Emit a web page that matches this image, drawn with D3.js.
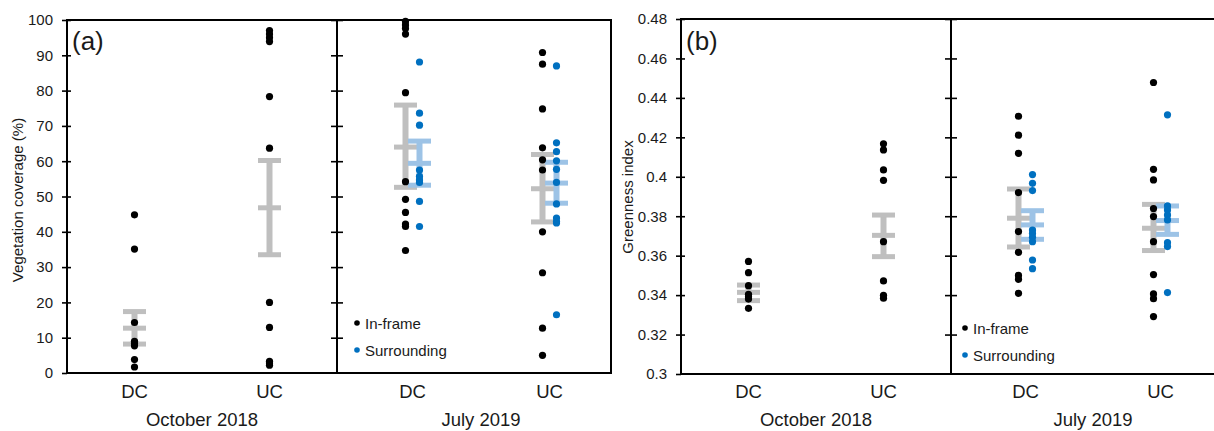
<!DOCTYPE html>
<html>
<head>
<meta charset="utf-8">
<script src="https://cdn.jsdelivr.net/npm/d3@7"></script>
<style>
  body { margin: 0; background: #fff; }
  text { font-family: "Liberation Sans", Arial, sans-serif; fill: #1a1a1a; }
</style>
</head>
<body>
<svg id="chart" width="1214" height="431"></svg>
<script>
// categories / groups
const categories = ["DC", "UC"];
const periods = ["October 2018", "July 2019"];
const seriesNames = ["In-frame", "Surrounding"];

// tick labels
const ticksA = [0, 10, 20, 30, 40, 50, 60, 70, 80, 90, 100];
const tickLabelsA = ["0", "10", "20", "30", "40", "50", "60", "70", "80", "90", "100"];
const ticksB = [0.3, 0.32, 0.34, 0.36, 0.38, 0.4, 0.42, 0.44, 0.46, 0.48];
const tickLabelsB = ["0.3", "0.32", "0.34", "0.36", "0.38", "0.4", "0.42", "0.44", "0.46", "0.48"];

// (a) vegetation coverage (%) - October 2018
const aOctDC = [44.8, 35.1, 14.3, 9.0, 8.3, 7.7, 3.8, 1.7];
const aOctUC = [97.0, 96.0, 95.0, 93.9, 78.3, 63.7, 20.0, 12.9, 3.3, 2.8, 2.2];
const aOctErrDC = [8.2, 12.7, 17.4];   // low, mean, high
const aOctErrUC = [33.5, 46.8, 60.2];

// (a) July 2019
const aJulDCIn = [99.6, 98.6, 97.6, 96.0, 79.4, 54.2, 49.2, 45.5, 42.2, 41.5, 34.7];
const aJulDCSur = [88.1, 73.6, 70.2, 57.5, 55.7, 54.7, 54.0, 48.6, 41.5];
const aJulUCIn = [90.8, 87.5, 74.8, 63.8, 60.4, 57.5, 40.0, 28.4, 12.7, 5.0];
const aJulUCSur = [87.0, 65.2, 62.7, 60.1, 57.7, 54.0, 47.9, 43.9, 42.9, 42.5, 16.5];
const aJulErrDCIn = [52.6, 64.0, 75.9];
const aJulErrDCSur = [53.2, 59.4, 65.7];
const aJulErrUCIn = [42.8, 52.2, 61.9];
const aJulErrUCSur = [48.1, 53.8, 59.7];

// (b) greenness index - October 2018
const bOctDC = [0.3571, 0.3514, 0.3448, 0.3404, 0.3392, 0.3380, 0.3333];
const bOctUC = [0.4167, 0.4136, 0.4035, 0.3982, 0.3671, 0.3472, 0.3399, 0.3384];
const bOctErrDC = [0.3372, 0.3414, 0.3451];
const bOctErrUC = [0.3595, 0.3703, 0.3806];

// (b) July 2019
const bJulDCIn = [0.4307, 0.4211, 0.4119, 0.3920, 0.3722, 0.3617, 0.3500, 0.3480, 0.3409];
const bJulDCSur = [0.4011, 0.3967, 0.3930, 0.3730, 0.3713, 0.3693, 0.3671, 0.3578, 0.3534];
const bJulUCIn = [0.4478, 0.4038, 0.3984, 0.3839, 0.3798, 0.3671, 0.3504, 0.3406, 0.3382, 0.3291];
const bJulUCSur = [0.4314, 0.3852, 0.3832, 0.3806, 0.3781, 0.3666, 0.3646, 0.3413];
const bJulErrDCIn = [0.3644, 0.3790, 0.3938];
const bJulErrDCSur = [0.3683, 0.3756, 0.3828];
const bJulErrUCIn = [0.3626, 0.3739, 0.3860];
const bJulErrUCSur = [0.3708, 0.3778, 0.3852];

const GRAY = "#bfbfbf", LIGHTBLUE = "#9dc3e6", BLUE = "#0070c0";

const svg = d3.select("#chart");

function drawPanel(p) {
    const y = d3.scaleLinear().domain(p.domain).range([p.yBottom, p.yTop]);
    const xOct = d3.scalePoint().domain(categories).range([p.x0, p.xMid]).padding(0.5);
    const xJul = d3.scalePoint().domain(categories).range([p.xMid, p.x1]).padding(0.5);
    const g = svg.append("g");

    // left axis with labels
    const left = g.append("g")
        .attr("transform", `translate(${p.x0},0)`)
        .call(d3.axisLeft(y).tickValues(p.ticks).tickFormat((d, i) => p.tickLabels[i]).tickSize(5).tickPadding(9));
    left.select(".domain").remove();
    left.selectAll("line").attr("stroke", "#000").attr("stroke-width", 1.6);
    left.selectAll("text").style("font-size", "15px").style("font-family", '"Liberation Sans", Arial, sans-serif').attr("fill", "#1a1a1a");

    // inward ticks on left axis and ticks on the divider
    [[p.x0, d3.axisRight, 4], [p.xMid, d3.axisRight, 6], [p.xMid, d3.axisLeft, 6]].forEach(([xx, ax, size]) => {
        const t = g.append("g")
            .attr("transform", `translate(${xx},0)`)
            .call(ax(y).tickValues(p.ticks.slice(1)).tickSize(size).tickFormat(""));
        t.select(".domain").remove();
        t.selectAll("line").attr("stroke", "#000").attr("stroke-width", 1.6);
    });

    // frame + divider
    g.append("rect")
        .attr("x", p.x0).attr("y", y(p.domain[1]))
        .attr("width", p.x1 - p.x0).attr("height", y(p.domain[0]) - y(p.domain[1]))
        .attr("fill", "none").attr("stroke", "#000").attr("stroke-width", 2);
    g.append("line")
        .attr("x1", p.xMid).attr("x2", p.xMid)
        .attr("y1", y(p.domain[1])).attr("y2", y(p.domain[0]))
        .attr("stroke", "#000").attr("stroke-width", 2);

    // error bars
    function errBar(xc, e, color) {
        const eg = g.append("g");
        eg.append("line")
            .attr("x1", xc).attr("x2", xc).attr("y1", y(e[0])).attr("y2", y(e[2]))
            .attr("stroke", color).attr("stroke-width", 6);
        eg.selectAll("line.cap").data(e).enter().append("line")
            .attr("class", "cap")
            .attr("x1", xc - 11.5).attr("x2", xc + 11.5)
            .attr("y1", d => y(d)).attr("y2", d => y(d))
            .attr("stroke", color).attr("stroke-width", 5);
    }
    function dots(xc, vals, color) {
        g.append("g").selectAll("circle").data(vals).enter().append("circle")
            .attr("cx", xc).attr("cy", d => y(d)).attr("r", 3.6).attr("fill", color);
    }

    const off = 14;
    errBar(xOct("DC"), p.octErr[0], GRAY);
    errBar(xOct("UC"), p.octErr[1], GRAY);
    errBar(xJul("DC"), p.julErrIn[0], GRAY);
    errBar(xJul("UC"), p.julErrIn[1], GRAY);
    errBar(xJul("DC") + off, p.julErrSur[0], LIGHTBLUE);
    errBar(xJul("UC") + off, p.julErrSur[1], LIGHTBLUE);

    dots(xOct("DC"), p.oct[0], "#000");
    dots(xOct("UC"), p.oct[1], "#000");
    dots(xJul("DC"), p.julIn[0], "#000");
    dots(xJul("UC"), p.julIn[1], "#000");
    dots(xJul("DC") + off, p.julSur[0], BLUE);
    dots(xJul("UC") + off, p.julSur[1], BLUE);

    // category labels
    categories.forEach(c => {
        g.append("text").attr("x", xOct(c)).attr("y", 398).attr("text-anchor", "middle")
            .style("font-size", "18.5px").text(c);
        g.append("text").attr("x", xJul(c) + off / 2).attr("y", 398).attr("text-anchor", "middle")
            .style("font-size", "18.5px").text(c);
    });
    g.append("text").attr("x", (xOct("DC") + xOct("UC")) / 2).attr("y", p.groupY)
        .attr("text-anchor", "middle").style("font-size", "18.5px").text(periods[0]);
    g.append("text").attr("x", (xJul("DC") + xJul("UC")) / 2 + off / 2).attr("y", p.groupY)
        .attr("text-anchor", "middle").style("font-size", "18.5px").text(periods[1]);

    // axis title
    g.append("text")
        .attr("transform", `translate(${p.titleX},${p.titleY}) rotate(-90)`)
        .attr("text-anchor", "middle").style("font-size", "15px").text(p.title);

    // panel letter
    g.append("text").attr("x", p.x0 + 5).attr("y", 50).style("font-size", "26px").text(p.letter);

    // legend
    seriesNames.forEach((s, i) => {
        const ly = p.legendY + i * 27;
        g.append("circle").attr("cx", p.legendX).attr("cy", ly).attr("r", 2.8)
            .attr("fill", i === 0 ? "#000" : BLUE);
        g.append("text").attr("x", p.legendX + 8).attr("y", ly + 5.5)
            .style("font-size", "15px").text(s);
    });
}

drawPanel({
    x0: 67, xMid: 337, x1: 611, yTop: 20, yBottom: 373,
    domain: [0, 100], ticks: ticksA, tickLabels: tickLabelsA,
    oct: [aOctDC, aOctUC], octErr: [aOctErrDC, aOctErrUC],
    julIn: [aJulDCIn, aJulUCIn], julSur: [aJulDCSur, aJulUCSur],
    julErrIn: [aJulErrDCIn, aJulErrUCIn], julErrSur: [aJulErrDCSur, aJulErrUCSur],
    title: "Vegetation coverage (%)", titleX: 23, titleY: 200,
    letter: "(a)", legendX: 357, legendY: 323, groupY: 426
});

drawPanel({
    x0: 681, xMid: 951, x1: 1221, yTop: 19, yBottom: 374,
    domain: [0.3, 0.48], ticks: ticksB, tickLabels: tickLabelsB,
    oct: [bOctDC, bOctUC], octErr: [bOctErrDC, bOctErrUC],
    julIn: [bJulDCIn, bJulUCIn], julSur: [bJulDCSur, bJulUCSur],
    julErrIn: [bJulErrDCIn, bJulErrUCIn], julErrSur: [bJulErrDCSur, bJulErrUCSur],
    title: "Greenness index", titleX: 633, titleY: 197,
    letter: "(b)", legendX: 965, legendY: 328, groupY: 426
});
</script>
</body>
</html>
